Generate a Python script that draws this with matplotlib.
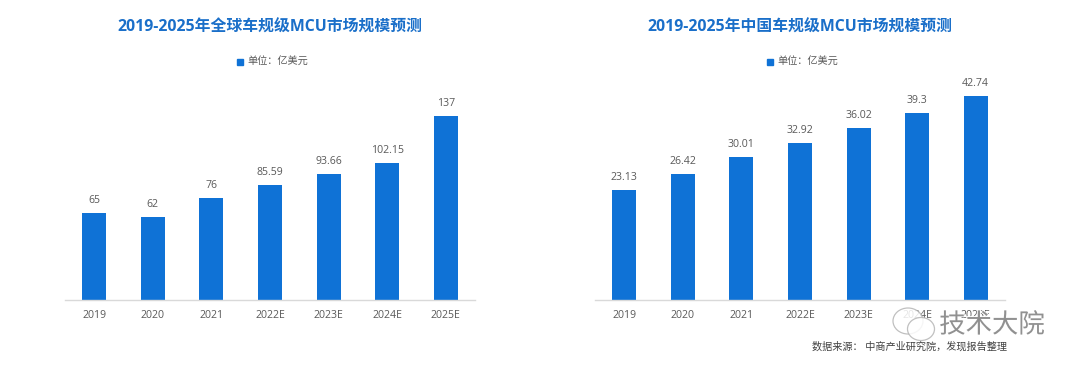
import matplotlib
matplotlib.use('Agg')
import matplotlib.pyplot as plt
from matplotlib.patches import Ellipse, Rectangle
import matplotlib.patheffects as pe

plt.rcParams['font.family'] = ['Open Sans', 'Noto Sans CJK SC', 'DejaVu Sans']

years = ['2019', '2020', '2021', '2022E', '2023E', '2024E', '2025E']
global_vals = [65, 62, 76, 85.59, 93.66, 102.15, 137]
china_vals = [23.13, 26.42, 30.01, 32.92, 36.02, 39.3, 42.74]
global_labels = ['65', '62', '76', '85.59', '93.66', '102.15', '137']
china_labels = ['23.13', '26.42', '30.01', '32.92', '36.02', '39.3', '42.74']

W, H = 1080, 374
blue = '#0f72d6'
title_blue = '#1a6fc9'
grey = '#595959'

fig = plt.figure(figsize=(W/100, H/100), dpi=100)


def panel(x0, x1, vals, labels, title, ymax):
    # axes in pixel coords, baseline at y=300, top at y=70
    ax = fig.add_axes([x0/W, (H-300)/H, (x1-x0)/W, 230/H])
    ax.bar(range(len(vals)), vals, width=0.41, color=blue)
    ax.set_xlim(-0.5, 6.5)
    ax.set_ylim(0, ymax)
    for i, v in enumerate(vals):
        ax.annotate(labels[i], (i, v), xytext=(0, 7), textcoords='offset pixels',
                    ha='center', va='bottom', fontsize=7.6, color=grey)
    ax.set_xticks(range(len(years)))
    ax.set_xticklabels(years, fontsize=7.6, color=grey)
    ax.tick_params(axis='x', length=0, pad=7)
    ax.set_yticks([])
    for s in ['top', 'left', 'right']:
        ax.spines[s].set_visible(False)
    ax.spines['bottom'].set_color('#d9d9d9')
    ax.spines['bottom'].set_linewidth(1)
    ax.patch.set_alpha(0)

    xc = (x0 + x1)/2
    fig.text(xc/W, 1-28/H, title, ha='center', va='center', fontsize=11.4,
             fontweight='bold', color=title_blue)
    # legend
    fig.patches.append(Rectangle(((xc-33)/W, 1-65/H), 6/W, 6/H,
                                 transform=fig.transFigure, color=blue))
    fig.text((xc-23)/W, 1-61.5/H, '单位：亿美元', ha='left', va='center',
             fontsize=7.3, color=grey)


panel(65, 475, global_vals, global_labels, '2019-2025年全球车规级MCU市场规模预测', 230/1.343)
panel(595, 1005, china_vals, china_labels, '2019-2025年中国车规级MCU市场规模预测', 230/4.77)

fig.text(910/W, 1-347/H, '数据来源： 中商产业研究院，发现报告整理', ha='center', va='center',
         fontsize=7.3, color='#404040', fontweight='medium')

# watermark
wm_fx = [pe.withStroke(linewidth=1.4, foreground='#ffffff')]
fig.text(992/W, 1-326/H, '技术大院', ha='center', va='center', fontsize=19,
         color='#8c8c8c', zorder=10, path_effects=wm_fx, alpha=0.95)
for cx, cy, w, h in [(908, 321, 30, 26), (921, 329, 27, 23)]:
    fig.patches.append(Ellipse((cx/W, 1-cy/H), w/W, h/H, transform=fig.transFigure,
                               facecolor='#ffffff', edgecolor='#b5b5b5', lw=0.9,
                               alpha=0.85, zorder=9))

fig.savefig('out.png', dpi=100)
